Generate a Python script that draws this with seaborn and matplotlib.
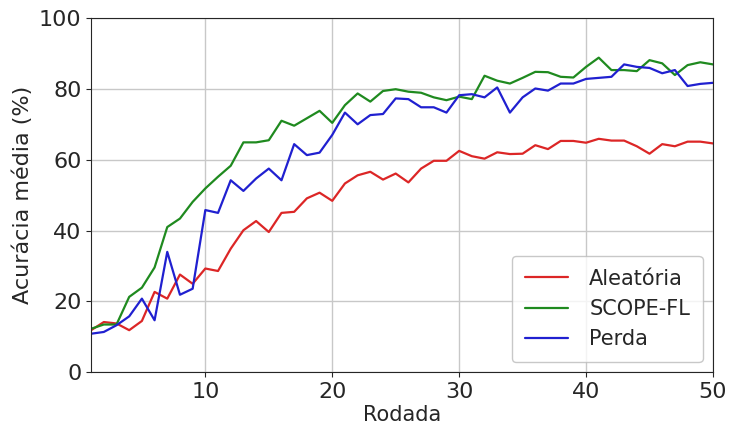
import numpy as np
import pandas as pd
import matplotlib
matplotlib.use("Agg")
import matplotlib.pyplot as plt
import seaborn as sns

rodadas = list(range(1, 51))

aleatoria = [11.9, 14.2, 13.8, 11.9, 14.5, 22.7, 20.8, 27.6, 25.0, 29.3,
             28.6, 34.9, 40.1, 42.7, 39.6, 45.0, 45.3, 49.1, 50.7, 48.4,
             53.3, 55.6, 56.6, 54.4, 56.1, 53.6, 57.5, 59.7, 59.7, 62.5,
             61.0, 60.3, 62.1, 61.6, 61.7, 64.1, 63.0, 65.3, 65.3, 64.8,
             65.9, 65.4, 65.4, 63.8, 61.7, 64.4, 63.8, 65.1, 65.1, 64.6]

scope_fl = [12.3, 13.5, 13.5, 21.3, 23.9, 29.6, 41.0, 43.4, 48.1, 51.9,
            55.2, 58.3, 64.9, 64.9, 65.5, 71.0, 69.6, 71.7, 73.8, 70.4,
            75.4, 78.7, 76.4, 79.4, 79.9, 79.2, 78.9, 77.6, 76.8, 77.8,
            77.1, 83.7, 82.3, 81.5, 83.1, 84.8, 84.7, 83.4, 83.2, 86.2,
            88.8, 85.3, 85.3, 85.0, 88.1, 87.2, 83.9, 86.7, 87.5, 86.9]

perda = [10.9, 11.4, 13.3, 15.8, 20.8, 14.7, 34.0, 21.9, 23.6, 45.8,
         45.0, 54.2, 51.2, 54.7, 57.5, 54.2, 64.4, 61.3, 62.0, 67.0,
         73.3, 70.0, 72.6, 72.9, 77.3, 77.1, 74.8, 74.8, 73.3, 78.2,
         78.5, 77.6, 80.4, 73.3, 77.6, 80.1, 79.5, 81.5, 81.5, 82.8,
         83.1, 83.4, 86.9, 86.2, 85.9, 84.4, 85.3, 80.8, 81.4, 81.7]

series = ["Aleatória", "SCOPE-FL", "Perda"]
cores = {"Aleatória": "#dc2626", "SCOPE-FL": "#1f8a1f", "Perda": "#2020d0"}

df = pd.DataFrame({
    "Rodada": rodadas * 3,
    "Acuracia": aleatoria + scope_fl + perda,
    "Estrategia": [s for s in series for _ in rodadas],
})

sns.set_style("ticks")
plt.rcParams["font.family"] = ["DejaVu Sans"]

fig, ax = plt.subplots(figsize=(7.29, 4.28), dpi=100)
sns.lineplot(data=df, x="Rodada", y="Acuracia", hue="Estrategia",
             hue_order=series, palette=cores, linewidth=1.6, ax=ax)

ax.set_xlim(1, 50)
ax.set_ylim(0, 100)
ax.set_xticks([10, 20, 30, 40, 50])
ax.set_yticks([0, 20, 40, 60, 80, 100])
ax.grid(True, color="#c8c8c8", linewidth=1)
ax.tick_params(labelsize=16)
ax.set_xlabel("Rodada", fontsize=15, labelpad=2)
ax.set_ylabel("Acurácia média (%)", fontsize=16)
leg = ax.legend(loc="lower right", fontsize=15, title=None, frameon=True,
                handlelength=2.1, handletextpad=1.0, borderpad=0.6,
                labelspacing=0.5)
leg.get_frame().set_edgecolor("#bbbbbb")

fig.subplots_adjust(left=0.125, right=0.978, top=0.958, bottom=0.13)
fig.savefig("out.png", dpi=100)
